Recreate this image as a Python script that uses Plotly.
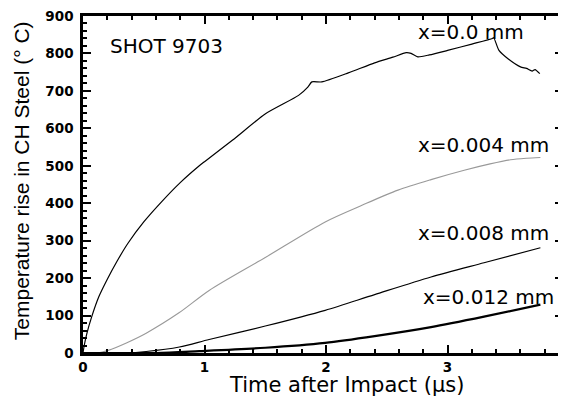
import plotly.graph_objects as go

# ---- data ----
t_x0 = [0, 0.01, 0.03, 0.07, 0.13, 0.2, 0.28, 0.37, 0.5, 0.65, 0.8, 0.957, 1.0,
        1.229, 1.502, 1.774, 1.85, 1.883, 1.965, 2.183, 2.4, 2.55, 2.66, 2.7,
        2.755, 2.85, 3.0, 3.2, 3.369, 3.38, 3.423, 3.5, 3.6, 3.65, 3.696, 3.72, 3.759]
v_x0 = [0, 20, 50, 95, 150, 197, 245, 293, 350, 405, 455, 500, 511,
        568, 639, 688, 710, 724, 724, 748, 775, 790, 802, 800,
        791, 796, 808, 825, 840, 842, 808, 785, 764, 760, 753, 757, 746]

t_x4 = [0, 0.12, 0.207, 0.357, 0.52, 0.793, 1.038, 1.5, 1.993, 2.3, 2.592,
        2.864, 3.137, 3.35, 3.518, 3.65, 3.764]
v_x4 = [0, 0, 7, 27, 53, 108, 167, 255, 350, 395, 435, 463, 488, 505, 516, 520, 522]

t_x8 = [0, 0.35, 0.52, 0.793, 1.038, 1.5, 1.993, 2.4, 2.864, 3.3, 3.764]
v_x8 = [0, 0, 4, 16, 36, 72, 114, 156, 203, 241, 281]

t_x12 = [0, 0.6, 0.957, 1.5, 1.993, 2.4, 2.864, 3.3, 3.764]
v_x12 = [0, 0, 5, 14, 27, 45, 69, 97, 129]

series_labels = ["x=0.0 mm", "x=0.004 mm", "x=0.008 mm", "x=0.012 mm"]
x_title = "Time after Impact (µs)"
y_title = "Temperature rise in CH Steel (° C)"
shot_label = "SHOT 9703"

fig = go.Figure()
fig.add_trace(go.Scatter(x=t_x0, y=v_x0, mode="lines",
                         line=dict(color="black", width=1.2, shape="spline", smoothing=0.6)))
fig.add_trace(go.Scatter(x=t_x4, y=v_x4, mode="lines",
                         line=dict(color="#999999", width=1.1, shape="spline", smoothing=0.8)))
fig.add_trace(go.Scatter(x=t_x8, y=v_x8, mode="lines",
                         line=dict(color="black", width=1.2, shape="spline", smoothing=0.8)))
fig.add_trace(go.Scatter(x=t_x12, y=v_x12, mode="lines",
                         line=dict(color="black", width=2.2, shape="spline", smoothing=0.8)))

lab_font = dict(family="DejaVu Sans", size=20, color="black")
label_pos = [(2.742, 857), (2.742, 556), (2.742, 320), (2.783, 149)]
for (lx, ly), txt in zip(label_pos, series_labels):
    fig.add_annotation(x=lx, y=ly, xref="x", yref="y", text=txt, showarrow=False,
                       xanchor="left", yanchor="middle", font=lab_font)
fig.add_annotation(x=0.207, y=819, xref="x", yref="y", text=shot_label, showarrow=False,
                   xanchor="left", yanchor="middle", font=lab_font)

fig.add_annotation(x=0.548, y=-0.095, xref="paper", yref="paper", text=x_title,
                   showarrow=False, xanchor="center", yanchor="middle",
                   font=dict(family="DejaVu Sans", size=21, color="black"))
fig.add_annotation(x=-0.129, y=0.51, xref="paper", yref="paper", text=y_title,
                   showarrow=False, xanchor="center", yanchor="middle", textangle=-90,
                   font=dict(family="Liberation Sans", size=21, color="black"))

tick_font = dict(family="DejaVu Sans", size=13.5, color="black", weight="bold")

fig.update_xaxes(range=[0, 3.95], tickmode="linear", tick0=0, dtick=1,
                 ticks="inside", ticklen=8, tickwidth=2, tickcolor="black",
                 showline=True, linewidth=2.5, linecolor="black", mirror="ticks",
                 showgrid=False, zeroline=False, tickfont=tick_font,
                 ticklabeloverflow="allow",
                 minor=dict(dtick=0.2, ticks="inside", ticklen=4, tickwidth=1.5,
                            tickcolor="black", showgrid=False))
fig.update_yaxes(range=[0, 900], tickmode="linear", tick0=0, dtick=100,
                 ticks="inside", ticklen=8, tickwidth=2, tickcolor="black",
                 showline=True, linewidth=2.5, linecolor="black", mirror="ticks",
                 showgrid=False, zeroline=False, tickfont=tick_font,
                 ticklabelstandoff=4, ticklabeloverflow="allow",
                 minor=dict(dtick=20, ticks="inside", ticklen=4, tickwidth=1.5,
                            tickcolor="black", showgrid=False))

# the page body adds an 8px offset, so the figure is sized to fill the rest
fig.update_layout(width=558, height=389, showlegend=False,
                  margin=dict(l=75, r=0, t=8, b=44, pad=0),
                  plot_bgcolor="white", paper_bgcolor="white")

fig.write_html("out.html")
